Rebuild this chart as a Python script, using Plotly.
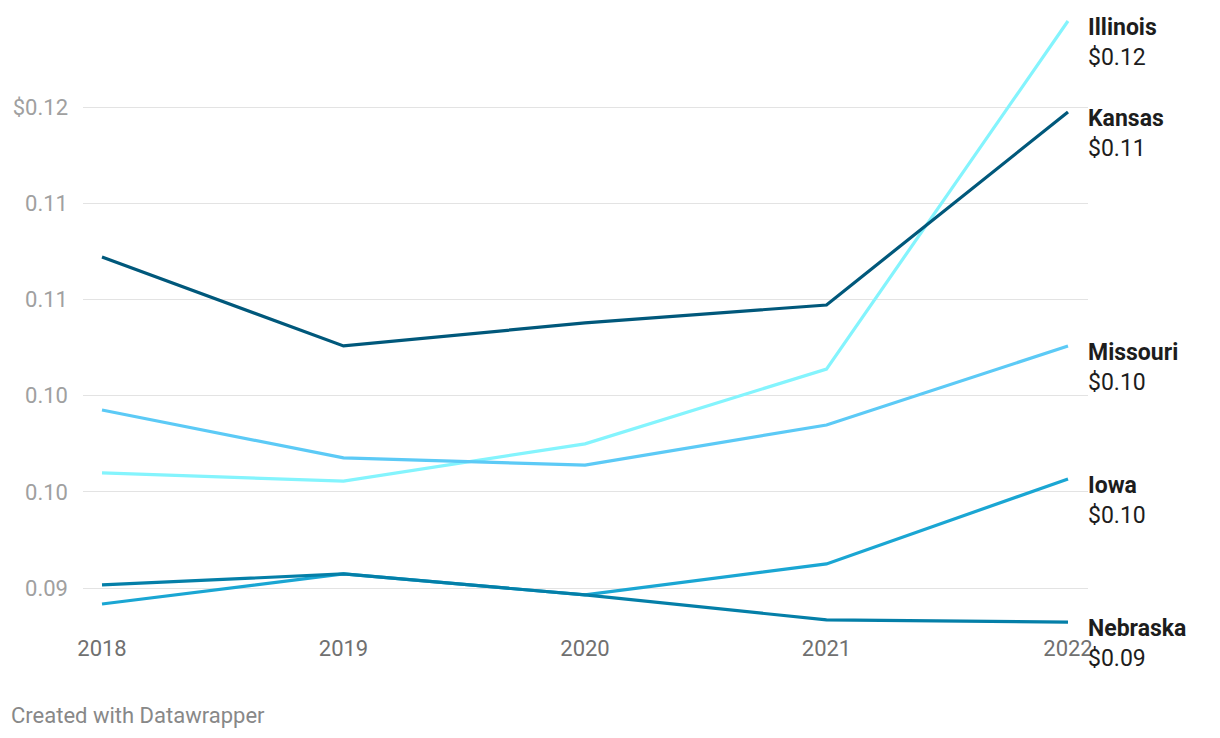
import plotly.graph_objects as go

years = [2018, 2019, 2020, 2021, 2022]
illinois = [0.09598, 0.09556, 0.09749, 0.10138, 0.11947]
kansas = [0.10721, 0.10258, 0.10378, 0.10471, 0.11474]
missouri = [0.09925, 0.09676, 0.09639, 0.09847, 0.10258]
iowa = [0.08917, 0.09073, 0.08964, 0.09125, 0.09567]
nebraska = [0.09016, 0.09073, 0.08964, 0.08834, 0.08823]

series = [
    ("Illinois", illinois, "#84f4fd"),
    ("Missouri", missouri, "#5ccaf6"),
    ("Iowa", iowa, "#1aa6d3"),
    ("Nebraska", nebraska, "#047fa8"),
    ("Kansas", kansas, "#00587b"),
]

tick_vals = [0.09, 0.095, 0.10, 0.105, 0.11, 0.115]
tick_text = ["0.09", "0.10", "0.10", "0.11", "0.11", "$0.12"]

# page has an 8px body margin; figure coords = page coords - 8
W, H = 1204, 722
L, R, T, B = 75, 1080, 2, 622

fig = go.Figure()
for name, vals, color in series:
    fig.add_trace(go.Scatter(x=years, y=vals, mode="lines", name=name,
                             line=dict(color=color, width=3.2), hoverinfo="skip"))
    fig.add_annotation(x=years[-1], y=vals[-1], xref="x", yref="y",
                       text=f"<b>{name}</b><br>${vals[-1]:.2f}",
                       showarrow=False, xanchor="left", yanchor="middle",
                       align="left", xshift=18, yshift=-21.5,
                       font=dict(family="Roboto", size=23, color="#1d1d1d"))

fig.add_annotation(xref="paper", yref="paper",
                   x=(1 - L) / (R - L), y=(B - 707) / (B - T),
                   xanchor="left", yanchor="middle", showarrow=False,
                   text="Created with Datawrapper",
                   font=dict(family="Roboto", size=22, color="#888888"))

px_per_year = (1068 - 102) / 4
x0 = 2018 - (102 - 83) / px_per_year
x1 = 2022 + (1088 - 1068) / px_per_year
val_per_px = 0.005 / 96.2
y_top = 0.09 + (588 - 10) * val_per_px
y_bot = 0.09 - (630 - 588) * val_per_px

fig.update_layout(
    width=W, height=H,
    margin=dict(l=L, r=W - R, t=T, b=H - B, autoexpand=False),
    paper_bgcolor="white", plot_bgcolor="white",
    showlegend=False,
    font=dict(family="Roboto"),
    xaxis=dict(range=[x0, x1], tickvals=years, ticktext=[str(y) for y in years],
               showgrid=False, zeroline=False, showline=False, ticks="",
               tickfont=dict(family="Roboto", size=22, color="#707070"),
               ticklabelstandoff=3),
    yaxis=dict(range=[y_bot, y_top], tickvals=tick_vals, ticktext=tick_text,
               showgrid=True, gridcolor="#e3e3e3", gridwidth=1,
               zeroline=False, showline=False, ticks="",
               tickfont=dict(family="Roboto", size=22, color="#a0a0a0"),
               ticklabelstandoff=14),
)

fig.write_html("out.html")
